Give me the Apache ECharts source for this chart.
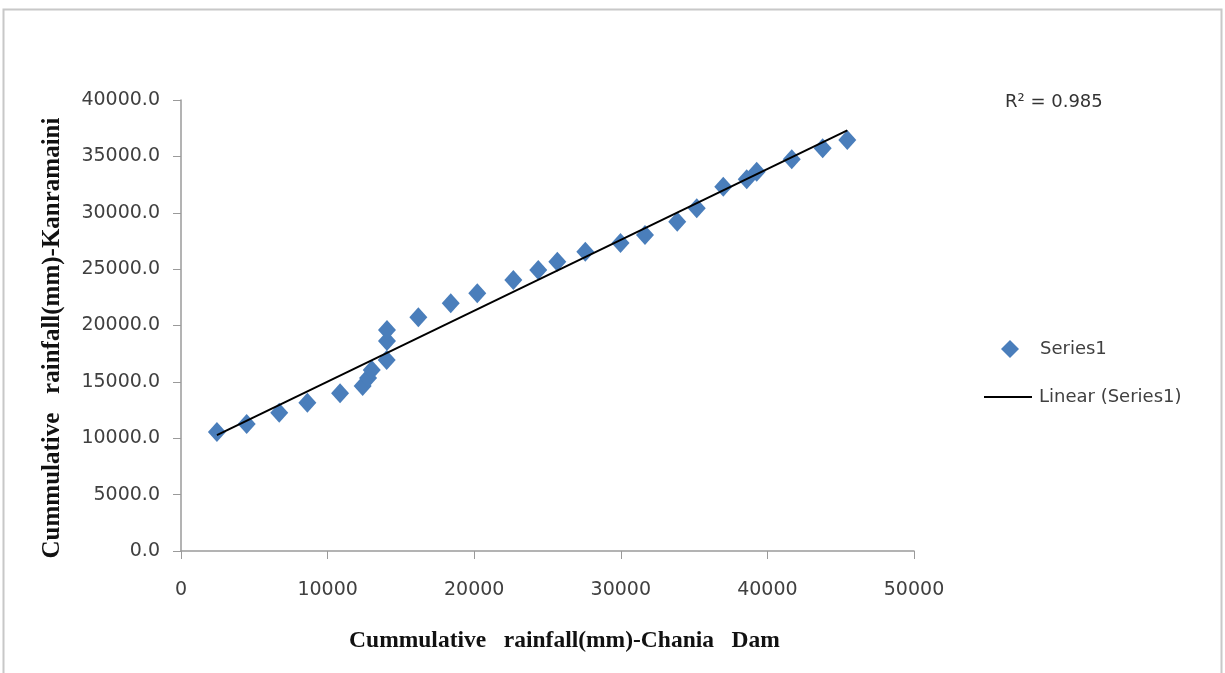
<!DOCTYPE html>
<html>
<head>
<meta charset="utf-8">
<script src="https://cdn.jsdelivr.net/npm/echarts@6/dist/echarts.min.js"></script>
<style>html,body{margin:0;padding:0;background:#fff}#c{width:1225px;height:673px}</style>
</head>
<body>
<div id="c"></div>
<script>
// Cumulative rainfall (mm) - Chania Dam (x) vs Kanramaini (y)
const chaniaDam = [2450, 4480, 6700, 8620, 10850, 12390, 12760, 13010, 14030, 14050, 14050, 16190, 18400, 20210, 22670, 24370, 25670, 27580, 29980, 31650, 33850, 35180, 36990, 38590, 39270, 41660, 43770, 45450];
const kanramaini = [10550, 11260, 12270, 13150, 13990, 14630, 15340, 16050, 16940, 18620, 19600, 20730, 21970, 22860, 24030, 24920, 25660, 26540, 27320, 28030, 29210, 30390, 32310, 32970, 33640, 34740, 35720, 36450];
const xTicks = [0, 10000, 20000, 30000, 40000, 50000];
const yTicks = [0, 5000, 10000, 15000, 20000, 25000, 30000, 35000, 40000];
const rSquaredLabel = 'R\u00b2 = 0.985';

const points = chaniaDam.map((x, i) => [x, kanramaini[i]]);
// least-squares linear trendline from the data
const n = points.length;
const mx = chaniaDam.reduce((a, b) => a + b, 0) / n;
const my = kanramaini.reduce((a, b) => a + b, 0) / n;
let sxy = 0, sxx = 0;
for (let i = 0; i < n; i++) { sxy += (chaniaDam[i] - mx) * (kanramaini[i] - my); sxx += (chaniaDam[i] - mx) ** 2; }
const slope = sxy / sxx, icpt = my - slope * mx;
const xmin = Math.min(...chaniaDam), xmax = Math.max(...chaniaDam);
const trend = [[xmin, icpt + slope * xmin], [xmax, icpt + slope * xmax]];

const chart = echarts.init(document.getElementById('c'));
const axisCol = '#9a9a9a';
const labelFont = {color: '#404040', fontFamily: 'DejaVu Sans', fontSize: 19};
chart.setOption({
  backgroundColor: '#fff',
  animation: false,
  grid: {left: 181, right: 311, top: 100, bottom: 122},
  title: {text: rSquaredLabel, left: 1000, top: 88, textStyle: {color: '#333', fontFamily: 'DejaVu Sans', fontSize: 18, fontWeight: 'normal'}},
  graphic: [{type: 'rect', shape: {x: 3.5, y: 9.5, width: 1218, height: 700}, style: {fill: 'none', stroke: '#c8c8c8', lineWidth: 2}, silent: true}],
  legend: [
    {data: ['Series1'], left: 996, top: 335, itemWidth: 18, itemHeight: 18, textStyle: Object.assign({}, labelFont, {fontSize: 18, padding: [0, 0, 0, 16]})},
    {data: [{name: 'Linear (Series1)', icon: 'rect'}], left: 979, top: 383, itemWidth: 48, itemHeight: 2, itemStyle: {color: '#000'}, textStyle: Object.assign({}, labelFont, {fontSize: 18, padding: [0, 0, 0, 2]})}
  ],
  xAxis: {
    type: 'value', min: xTicks[0], max: xTicks[xTicks.length - 1], interval: 10000,
    name: 'Cummulative   rainfall(mm)-Chania   Dam', nameLocation: 'middle', nameGap: 78,
    nameTextStyle: {fontFamily: 'Liberation Serif', fontWeight: 'bold', fontSize: 23.5, color: '#111', padding: [0, 0, 0, 34]},
    axisLine: {lineStyle: {color: axisCol, width: 1.5}},
    axisTick: {show: true, length: 8, lineStyle: {color: axisCol}},
    axisLabel: Object.assign({margin: 30, formatter: v => String(v)}, labelFont),
    splitLine: {show: false}
  },
  yAxis: {
    type: 'value', min: yTicks[0], max: yTicks[yTicks.length - 1], interval: 5000,
    name: 'Cummulative   rainfall(mm)-Kanramaini', nameLocation: 'middle', nameGap: 116,
    nameTextStyle: {fontFamily: 'Liberation Serif', fontWeight: 'bold', fontSize: 25, color: '#111', padding: [0, 25, 0, 0]},
    axisLine: {show: true, lineStyle: {color: axisCol, width: 1.5}},
    axisTick: {show: true, length: 8, lineStyle: {color: axisCol}},
    axisLabel: Object.assign({margin: 21, formatter: v => v.toFixed(1)}, labelFont),
    splitLine: {show: false}
  },
  series: [
    {name: 'Series1', type: 'scatter', symbol: 'diamond', symbolSize: [18, 20], itemStyle: {color: '#4a7ebb', opacity: 1}, data: points, z: 2},
    {name: 'Linear (Series1)', type: 'line', symbol: 'none', lineStyle: {color: '#000', width: 2}, itemStyle: {color: '#000'}, data: trend, z: 3}
  ]
});
</script>
</body>
</html>
